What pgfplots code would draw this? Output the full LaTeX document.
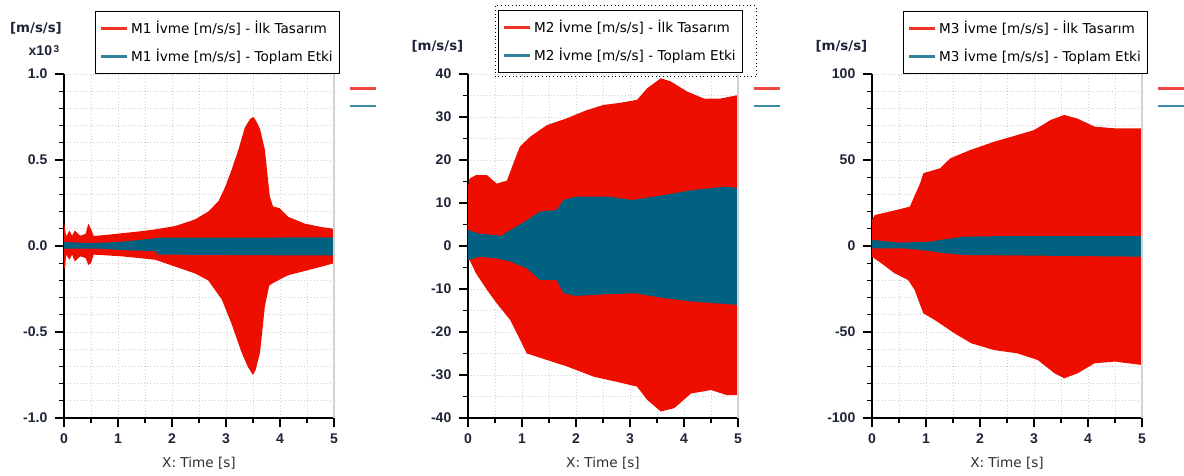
\documentclass[border=0pt]{standalone}
\usepackage{pgfplots}
\pgfplotsset{compat=1.18}
\usepackage{fontspec}
\setmainfont{DejaVu Sans}
\newfontfamily\tickfont{Liberation Sans}
\definecolor{cRed}{RGB}{237,14,0}
\definecolor{cTeal}{RGB}{0,98,128}
\definecolor{lRed}{RGB}{240,72,64}
\definecolor{lTeal}{RGB}{60,138,165}
\definecolor{tickc}{RGB}{30,36,56}
\definecolor{labc}{RGB}{45,45,50}

\pgfplotsset{
  panel/.style={
    scale only axis, width=202.5pt, height=258pt, anchor=south west,
    xmin=0, xmax=5,
    axis x line*=bottom, axis y line*=left,
    axis line style={-, black, line width=0.9pt},
    tick align=outside, major tick length=6.5pt, minor tick length=3.5pt,
    tick style={black, line width=0.8pt},
    grid=both,
    major grid style={dotted, gray!40, line width=0.5pt},
    minor grid style={dotted, gray!40, line width=0.5pt},
    xtick={0,1,2,3,4,5}, xticklabels={0,1,2,3,4,5},
    minor x tick num=1,
    ticklabel style={font=\tickfont\bfseries\fontsize{10.5}{12}\selectfont, color=tickc},
    xticklabel style={yshift=-1.5pt},
    yticklabel style={xshift=-2.5pt},
    xlabel={X: Time [s]},
    xlabel style={font=\fontsize{10.2}{12}\selectfont, color=labc, at={(axis description cs:0.5,0)}, anchor=center, yshift=-33.75pt},
    clip=false,
    legend cell align=left,
    legend image code/.code={\draw[line width=2.2pt,#1] (0pt,0pt) -- (19.5pt,0pt);},
    legend style={anchor=north west, draw=black, line width=0.75pt, fill=white,
      font=\fontsize{10.2}{12}\selectfont, row sep=6.5pt, inner xsep=3pt, inner ysep=5pt},
  }
}

\begin{document}
\begin{tikzpicture}
\path[use as bounding box] (0,0) rectangle (888pt,356.25pt);

% ---------------- Panel 1 ----------------
\begin{axis}[panel, at={(48pt,42.75pt)},
  ymin=-1, ymax=1, ytick={-1,-0.5,0,0.5,1}, yticklabels={-1.0,-0.5,0.0,0.5,1.0},
  minor y tick num=4,
  legend style={at={(0.1148,1.1831)}}]
\addplot[fill=cRed, draw=none, forget plot] coordinates {
(0,0.14) (0.02,0.10) (0.04,0.055) (0.1,0.09) (0.15,0.06) (0.2,0.09) (0.3,0.06) (0.4,0.07) (0.45,0.13) (0.5,0.10) (0.55,0.058) (0.8,0.065) (1.07,0.074) (1.4,0.085) (1.7,0.097) (2.06,0.116) (2.43,0.155) (2.67,0.2) (2.86,0.26) (2.98,0.34) (3.1,0.44) (3.23,0.56) (3.35,0.69) (3.45,0.74) (3.51,0.75) (3.57,0.72) (3.63,0.68) (3.72,0.56) (3.78,0.38) (3.81,0.29) (3.87,0.23) (3.99,0.22) (4.15,0.17) (4.46,0.13) (4.77,0.11) (5,0.10)
(5,-0.10) (4.77,-0.12) (4.15,-0.17) (3.9,-0.21) (3.8,-0.23) (3.72,-0.35) (3.63,-0.62) (3.55,-0.72) (3.5,-0.75) (3.4,-0.70) (3.29,-0.62) (3.1,-0.45) (2.92,-0.31) (2.67,-0.2) (2.43,-0.16) (1.69,-0.08) (1.07,-0.06) (0.55,-0.05) (0.5,-0.10) (0.45,-0.11) (0.4,-0.07) (0.3,-0.06) (0.2,-0.09) (0.15,-0.05) (0.1,-0.08) (0.04,-0.05) (0.02,-0.13) (0,-0.13)
};
\addplot[fill=cTeal, draw=none, forget plot] coordinates {
(0,0.023) (0.5,0.017) (0.8,0.02) (1.07,0.025) (1.4,0.035) (1.69,0.045) (1.75,0.048) (5,0.05)
(5,-0.055) (4.5,-0.055) (1.75,-0.05) (1.69,-0.03) (1.2,-0.025) (0.6,-0.015) (0,-0.015)
};
\addlegendimage{cRed!85!white}
\addlegendentry{M1 İvme [m/s/s] - İlk Tasarım}
\addlegendimage{cTeal!80!white}
\addlegendentry{M1 İvme [m/s/s] - Toplam Etki}
\draw[gray!35, line width=1pt] (rel axis cs:1,0) -- (rel axis cs:1,1);
\draw[lRed, line width=2.2pt] (rel axis cs:1.059,0.959) -- (rel axis cs:1.156,0.959);
\draw[lTeal, line width=2.2pt] (rel axis cs:1.059,0.907) -- (rel axis cs:1.156,0.907);
\end{axis}

% ---------------- Panel 2 ----------------
\begin{axis}[panel, at={(351pt,42.75pt)},
  ymin=-40, ymax=40, ytick={-40,-30,-20,-10,0,10,20,30,40},
  yticklabels={-40,-30,-20,-10,0,10,20,30,40},
  minor y tick num=1,
  legend style={at={(0.111,1.186)}}]
\addplot[fill=cRed, draw=none, forget plot] coordinates {
(0,13.8) (0.03,15.7) (0.15,16.5) (0.35,16.5) (0.53,14.5) (0.72,15.2) (0.84,19.2) (0.96,23.1) (1.15,25.4) (1.46,28.1) (1.83,29.7) (2.2,31.6) (2.51,32.8) (2.82,33.3) (3.13,34) (3.32,36.7) (3.57,39) (3.75,38.3) (4.06,35.9) (4.37,34.3) (4.68,34.3) (5,35.1)
(5,-34.7) (4.8,-34.7) (4.5,-33.5) (4.13,-34.3) (3.82,-37.7) (3.57,-38.5) (3.32,-35.8) (3.13,-32.7) (2.76,-31.6) (2.33,-30.4) (1.83,-28) (1.46,-26.5) (1.09,-25) (0.78,-17.2) (0.53,-13.3) (0.35,-10.2) (0.15,-6.4) (0.03,-3.3) (0,-3)
};
\addplot[fill=cTeal, draw=none, forget plot] coordinates {
(0,3.7) (0.2,2.9) (0.53,2.5) (0.6,2.3) (0.84,4.1) (1.09,6) (1.33,8) (1.64,8.4) (1.77,10.7) (2,11.5) (2.6,11.5) (3.04,10.7) (3.66,11.9) (4.15,13) (4.77,13.8) (5,13.5)
(5,-13.7) (4.15,-12.9) (3.57,-12) (3.1,-11) (2.6,-11.2) (2,-11.6) (1.77,-11) (1.64,-7.9) (1.33,-7.9) (1.09,-5.2) (0.78,-3.6) (0.53,-2.9) (0.2,-2.5) (0,-3.3)
};
\addlegendimage{cRed!85!white}
\addlegendentry{M2 İvme [m/s/s] - İlk Tasarım}
\addlegendimage{cTeal!80!white}
\addlegendentry{M2 İvme [m/s/s] - Toplam Etki}
\draw[gray!35, line width=1pt] (rel axis cs:1,0) -- (rel axis cs:1,1);
\draw[lRed, line width=2.2pt] (rel axis cs:1.059,0.959) -- (rel axis cs:1.156,0.959);
\draw[lTeal, line width=2.2pt] (rel axis cs:1.059,0.907) -- (rel axis cs:1.156,0.907);
\draw[black, dotted, line width=0.75pt] (rel axis cs:0.1,0.9913) rectangle (rel axis cs:1.0667,1.1977);
\end{axis}

% ---------------- Panel 3 ----------------
\begin{axis}[panel, at={(654pt,42.75pt)},
  ymin=-100, ymax=100, ytick={-100,-50,0,50,100},
  yticklabels={-100,-50,0,50,100},
  minor y tick num=4,
  legend style={at={(0.1148,1.1831)}}]
\addplot[fill=cRed, draw=none, forget plot] coordinates {
(0,15) (0.05,18) (0.45,20.9) (0.7,22.9) (0.89,36.4) (0.95,42.3) (1.26,45.2) (1.45,51) (1.82,55.8) (2.26,60.6) (2.69,64.5) (3,67.4) (3.31,73.3) (3.56,76.2) (3.81,74) (4.12,69.4) (4.5,68.4) (5,68.4)
(5,-69.2) (4.5,-67.2) (4.12,-68.2) (3.81,-74) (3.56,-76.9) (3.38,-74) (3.07,-66.3) (2.69,-62.4) (2.26,-60.5) (1.84,-56.6) (1.53,-50.8) (1.16,-43) (0.95,-39.1) (0.79,-25.6) (0.67,-19.8) (0.42,-15.9) (0.17,-10) (0,-6.2)
};
\addplot[fill=cTeal, draw=none, forget plot] coordinates {
(0,3.5) (0.5,2) (1.07,2.5) (1.26,3.5) (1.7,5.4) (2.5,5.8) (5,5.8)
(5,-6.2) (1.7,-5.2) (1.26,-3.9) (1.07,-2.9) (0.6,-1.4) (0,-1.4)
};
\addlegendimage{cRed!85!white}
\addlegendentry{M3 İvme [m/s/s] - İlk Tasarım}
\addlegendimage{cTeal!80!white}
\addlegendentry{M3 İvme [m/s/s] - Toplam Etki}
\draw[gray!35, line width=1pt] (rel axis cs:1,0) -- (rel axis cs:1,1);
\draw[lRed, line width=2.2pt] (rel axis cs:1.059,0.959) -- (rel axis cs:1.156,0.959);
\draw[lTeal, line width=2.2pt] (rel axis cs:1.059,0.907) -- (rel axis cs:1.156,0.907);
\end{axis}

% unit labels
\node[font=\bfseries\fontsize{10}{12}\selectfont, color=tickc] at (27pt,335.25pt) {[m/s/s]};
\node[font=\tickfont\bfseries\fontsize{10.5}{12}\selectfont, color=tickc] at (33pt,318.5pt) {x10\raisebox{0.45ex}{\fontsize{7.5}{8}\selectfont\,3}};
\node[font=\bfseries\fontsize{10}{12}\selectfont, color=tickc] at (328.1pt,321.75pt) {[m/s/s]};
\node[font=\bfseries\fontsize{10}{12}\selectfont, color=tickc] at (631.1pt,321.75pt) {[m/s/s]};
\end{tikzpicture}
\end{document}
